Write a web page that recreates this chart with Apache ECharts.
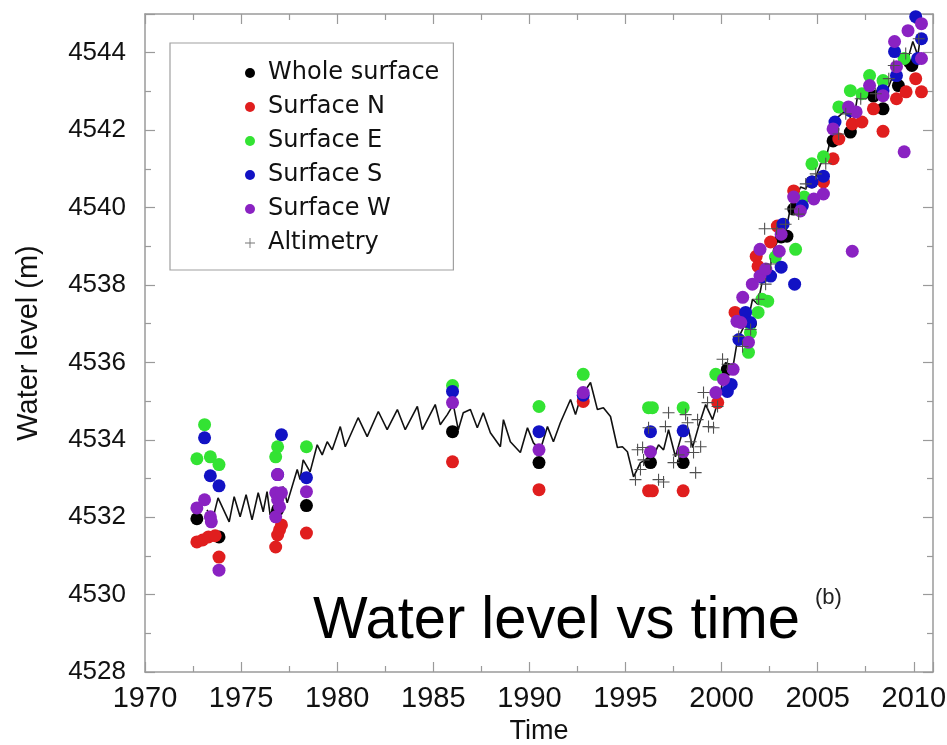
<!DOCTYPE html>
<html><head><meta charset="utf-8">
<script src="https://cdn.jsdelivr.net/npm/echarts@6/dist/echarts.min.js"></script>
<style>html,body{margin:0;padding:0;background:#fff}#c{width:947px;height:745px}</style>
</head><body><div id="c"></div>
<script>
// ---- data ----
const wholeYear  = [1972.7,1973.85,1976.9,1978.4,1986.0,1990.5,1996.3,1998.0,2000.3,2001.5,2002.2,2003.1,2003.4,2003.75,2004.7,2005.8,2006.7,2007.9,2008.4,2009.2,2009.9];
const wholeLevel = [4531.96,4531.49,4532.19,4532.30,4534.21,4533.41,4533.41,4533.41,4535.82,4537.0,4538.3,4539.24,4539.26,4539.96,4540.66,4541.72,4541.95,4542.88,4542.55,4543.15,4543.67];

const northYear  = [1972.7,1973.0,1973.3,1973.65,1973.85,1976.8,1976.9,1977.0,1977.1,1978.4,1986.0,1990.5,1992.8,1996.2,1996.4,1998.0,1999.8,2000.7,2001.8,2001.9,2002.55,2002.9,2003.75,2005.3,2005.8,2006.1,2006.8,2007.3,2007.9,2008.4,2009.1,2009.6,2010.1,2010.4];
const northLevel = [4531.36,4531.41,4531.49,4531.52,4530.97,4531.23,4531.54,4531.67,4531.80,4531.59,4533.43,4532.71,4534.99,4532.68,4532.68,4532.68,4534.96,4537.29,4538.74,4538.48,4539.11,4539.52,4540.43,4540.66,4541.26,4541.77,4542.16,4542.21,4542.55,4541.97,4542.81,4542.99,4543.33,4542.99];

const eastYear  = [1972.7,1973.1,1973.4,1973.85,1976.8,1976.9,1978.4,1986.0,1990.5,1992.8,1996.2,1996.4,1998.0,1999.7,2001.4,2001.5,2001.9,2002.1,2002.4,2002.8,2003.85,2004.3,2004.7,2005.3,2006.1,2006.7,2007.3,2007.7,2008.4,2009.5];
const eastLevel = [4533.51,4534.39,4533.56,4533.36,4533.56,4533.82,4533.82,4535.40,4534.86,4535.69,4534.83,4534.83,4534.83,4535.69,4536.26,4536.77,4537.29,4537.63,4537.58,4538.72,4538.92,4540.27,4541.13,4541.31,4542.60,4543.02,4542.94,4543.41,4543.28,4543.85];

const southYear  = [1973.1,1973.4,1973.85,1976.9,1977.1,1978.4,1986.0,1990.5,1992.8,1996.3,1998.0,2000.3,2000.5,2000.9,2001.25,2001.5,2002.1,2002.55,2003.1,2003.2,2003.8,2004.2,2004.7,2005.3,2005.9,2006.7,2008.4,2009.0,2009.1,2010.1,2010.2,2010.4];
const southLevel = [4534.05,4533.07,4532.81,4533.10,4534.13,4533.02,4535.25,4534.21,4535.15,4534.21,4534.23,4535.25,4535.43,4536.59,4537.29,4537.03,4538.20,4538.23,4538.46,4539.57,4538.02,4540.04,4540.66,4540.81,4542.21,4542.50,4543.02,4544.03,4543.41,4544.93,4543.85,4544.36];

const westYear  = [1972.7,1973.1,1973.4,1973.45,1973.85,1976.8,1976.8,1976.9,1976.9,1977.0,1977.1,1978.4,1986.0,1990.5,1992.8,1996.3,1998.0,1999.7,2000.1,2000.6,2000.8,2001.0,2001.1,2001.4,2001.6,2002.0,2002.0,2002.3,2003.0,2003.1,2003.75,2004.1,2004.8,2005.3,2005.8,2006.6,2006.8,2007.0,2007.7,2008.4,2009.0,2009.1,2009.5,2009.7,2010.4,2010.4];
const westLevel = [4532.24,4532.45,4532.01,4531.88,4530.63,4532.63,4532.01,4533.10,4532.45,4532.27,4532.63,4532.66,4534.96,4533.74,4535.22,4533.69,4533.69,4535.22,4535.56,4535.82,4537.06,4537.03,4537.68,4536.52,4538.02,4538.23,4538.92,4538.41,4538.87,4539.31,4540.27,4539.91,4540.22,4540.35,4542.03,4542.60,4538.87,4542.47,4543.15,4542.89,4544.29,4543.64,4541.44,4544.57,4544.75,4543.85];

const altYear  = [1995.52,1995.63,1995.78,1995.89,1995.94,1996.20,1996.72,1996.98,1997.08,1997.24,1997.50,1997.76,1998.13,1998.23,1998.39,1998.54,1998.65,1998.75,1998.91,1999.06,1999.27,1999.32,1999.58,1999.79,2000.05,2000.31,2000.89,2001.09,2001.51,2001.93,2002.24,2002.29,2002.55,2002.86,2003.33,2003.59,2004.01,2004.38,2004.90,2005.42,2006.09,2006.46,2007.24,2008.02,2008.70,2008.96,2009.58,2010.26];
const altLevel = [4532.97,4533.74,4533.23,4533.80,4533.48,4534.31,4532.97,4532.91,4534.34,4534.70,4533.41,4533.61,4534.65,4534.44,4533.95,4533.67,4533.15,4534.52,4533.82,4535.22,4534.96,4534.34,4534.31,4534.86,4536.08,4535.95,4536.67,4536.41,4536.85,4537.63,4539.45,4538.02,4538.54,4539.45,4539.57,4539.96,4539.83,4540.61,4540.87,4541.13,4541.90,4542.42,4542.81,4542.94,4543.33,4543.67,4543.98,4544.36];

const lineYear  = [1973.23,1973.49,1973.80,1974.38,1974.64,1974.95,1975.26,1975.57,1975.89,1976.15,1976.35,1976.51,1977.19,1977.40,1977.92,1978.07,1978.23,1978.59,1978.96,1979.22,1979.48,1979.74,1980.16,1980.42,1981.09,1981.56,1982.14,1982.60,1983.13,1983.54,1984.17,1984.43,1985.10,1985.36,1985.73,1986.04,1986.30,1986.56,1986.93,1987.29,1987.60,1987.97,1988.49,1988.65,1989.01,1989.53,1989.90,1990.21,1990.57,1990.94,1991.25,1991.61,1992.14,1992.40,1992.66,1993.18,1993.54,1993.85,1994.22,1994.58,1994.84,1995.10,1995.42,1995.78,1996.04,1996.41,1996.72,1996.98,1997.24,1997.60,1997.97,1998.28,1998.49,1998.80,1999.17,1999.53,1999.95,2000.21,2000.57,2000.83,2001.09,2001.41,2001.61,2001.88,2002.14,2002.45,2002.71,2002.97,2003.23,2003.59,2003.85,2004.11,2004.38,2004.64,2004.90,2005.16,2005.42,2005.68,2005.94,2006.56,2006.82,2007.08,2007.50,2007.76,2007.92,2008.28,2008.65,2009.06,2009.32,2009.58,2009.95,2010.21,2010.36];
const lineLevel = [4532.19,4531.88,4532.50,4531.88,4532.53,4532.01,4532.58,4531.93,4532.63,4532.14,4532.66,4532.06,4532.79,4532.37,4533.23,4532.97,4533.48,4533.17,4533.87,4533.61,4533.95,4533.74,4534.34,4533.82,4534.57,4534.08,4534.73,4534.26,4534.78,4534.26,4534.86,4534.26,4534.91,4534.39,4534.65,4534.91,4534.26,4534.70,4534.78,4534.31,4534.70,4534.18,4533.82,4534.52,4533.95,4533.67,4534.31,4533.92,4533.74,4534.34,4533.95,4534.44,4535.04,4534.65,4535.09,4535.48,4534.78,4534.83,4534.60,4533.80,4533.82,4533.69,4533.04,4533.41,4533.48,4533.54,4533.87,4533.74,4534.26,4533.56,4534.21,4534.26,4533.80,4534.34,4534.91,4534.52,4535.22,4536.00,4535.82,4536.59,4536.85,4537.16,4537.63,4537.50,4538.15,4538.28,4538.92,4539.19,4539.11,4540.01,4540.22,4540.53,4540.48,4540.74,4540.79,4541.13,4541.26,4541.77,4542.29,4542.55,4542.11,4542.89,4542.81,4542.99,4542.81,4543.25,4543.07,4543.59,4543.85,4543.64,4544.29,4543.93,4544.45];

const seriesNames = ['Whole surface','Surface N','Surface E','Surface S','Surface W','Altimetry'];
const titleText = 'Water level vs time';
const panelText = '(b)';
const xName = 'Time';
const yName = 'Water level (m)';

// ---- build ----
const zip = (a, b) => a.map((v, i) => [v, b[i]]);
const plusPath = 'path://M5,0H6V11H5Z M0,5H11V6H0Z';
const colors = ['#000000','#e01e1e','#33e333','#1212c4','#8a22c2','#505050'];
const sets = [[wholeYear,wholeLevel],[northYear,northLevel],[eastYear,eastLevel],[southYear,southLevel],[westYear,westLevel],[altYear,altLevel]];

const axisGray = '#9a9a9a';
const baseX = {type:'value', min:1970, max:2011, interval:5, splitLine:{show:false},
  axisLine:{show:true, onZero:false, lineStyle:{color:axisGray, width:1.5}},
  axisTick:{show:true, inside:true, length:10, lineStyle:{color:axisGray, width:1.2}},
  minorTick:{show:true, splitNumber:2, length:6, lineStyle:{color:axisGray, width:1.2}}};
const baseY = {type:'value', min:4528, max:4545, interval:2, splitLine:{show:false},
  axisLine:{show:true, onZero:false, lineStyle:{color:axisGray, width:1.5}},
  axisTick:{show:true, inside:true, length:10, lineStyle:{color:axisGray, width:1.2}},
  minorTick:{show:true, splitNumber:2, length:6, lineStyle:{color:axisGray, width:1.2}}};

const series = [{
  name:'line', type:'line', data: zip(lineYear, lineLevel), showSymbol:false, symbol:'none',
  lineStyle:{color:'#111', width:1.6}, z:2, silent:true
}];
seriesNames.forEach((n, i) => {
  series.push({
    name:n, type:'scatter', data: zip(sets[i][0], sets[i][1]),
    symbol: i === 5 ? plusPath : 'circle', symbolSize: i === 5 ? 12 : 13,
    itemStyle:{color:colors[i], opacity:1}, z:3 + i
  });
});

const chart = echarts.init(document.getElementById('c'), null, {renderer:'canvas'});
chart.setOption({
  backgroundColor:'#ffffff',
  animation:false,
  grid:{left:145, right:14, top:14, bottom:73, containLabel:false, outerBoundsMode:'none'},
  xAxis:[
    Object.assign({}, baseX, {position:'bottom', name:xName, nameLocation:'middle', nameGap:45,
      nameTextStyle:{fontFamily:'Liberation Sans', fontSize:27, color:'#111'},
      axisLabel:{show:true, margin:12, fontFamily:'Liberation Sans', fontSize:29, color:'#111',
        formatter:v => (v % 5 === 0 ? String(v) : '')}}),
    Object.assign({}, baseX, {position:'top', axisLabel:{show:false}})
  ],
  yAxis:[
    Object.assign({}, baseY, {position:'left', name:yName, nameLocation:'middle', nameGap:102,
      nameTextStyle:{fontFamily:'Liberation Sans', fontSize:29, color:'#111'},
      axisLabel:{show:true, margin:19, fontFamily:'Liberation Sans', fontSize:26, color:'#111',
        formatter:v => (v % 2 === 0 ? String(v) : '')}}),
    Object.assign({}, baseY, {position:'right', axisLabel:{show:false}})
  ],
  legend:{
    orient:'vertical', left:170, top:43, selectedMode:false,
    padding:[18,14,15,75], itemGap:10, itemWidth:10, itemHeight:10,
    borderColor:'#a0a0a0', borderWidth:1.2, backgroundColor:'#fff',
    textStyle:{fontFamily:'DejaVu Sans', fontSize:24, color:'#111', lineHeight:24, padding:[0,0,0,8]},
    data: seriesNames.map((n, i) => ({name:n, icon: i === 5 ? plusPath : 'circle',
      itemStyle: i === 5 ? {color:'#777'} : undefined}))
  },
  graphic:[
    {type:'text', x:313, y:621, z:50, scaleX:0.965,
      style:{text:titleText, font:'60px "Liberation Sans"', fill:'#000', verticalAlign:'middle', align:'left'}},
    {type:'text', x:815, y:598, z:50,
      style:{text:panelText, font:'22px "Liberation Sans"', fill:'#222', verticalAlign:'middle', align:'left'}}
  ],
  series: series
});
</script>
</body></html>
